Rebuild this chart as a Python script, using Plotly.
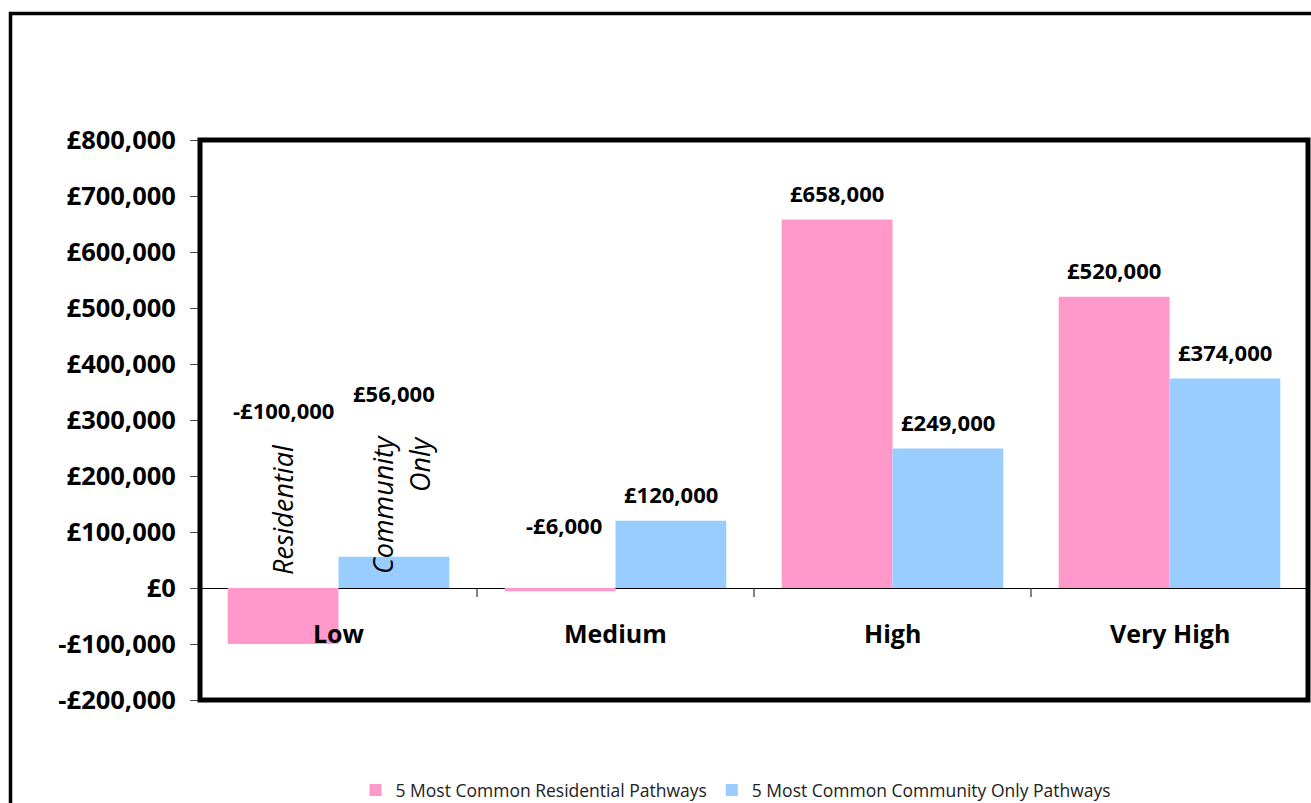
import plotly.graph_objects as go

# ---- data -------------------------------------------------------------
categories = ["Low", "Medium", "High", "Very High"]
residential = [-100000, -6000, 658000, 520000]
community_only = [56000, 120000, 249000, 374000]
series_names = ["5 Most Common Residential Pathways",
                "5 Most Common Community Only Pathways"]
y_ticks = [-200000, -100000, 0, 100000, 200000, 300000, 400000,
           500000, 600000, 700000, 800000]

# ---- styling ----------------------------------------------------------
PINK = "#FF99CC"
BLUE = "#99CCFF"
FONT = "Open Sans, Lato, sans-serif"

FIG_W, FIG_H = 1311, 803
PL, PT, PW, PH = 200, 140, 1108, 560  # plot area in pixels


def px_x(x):
    return (x - PL) / PW


def px_y(y):
    return (PT + PH - y) / PH


def money(v):
    return ("-" if v < 0 else "") + "£{:,}".format(abs(v))


fig = go.Figure()
fig.add_trace(go.Bar(x=categories, y=residential, name=series_names[0],
                     marker=dict(color=PINK, line=dict(width=0))))
fig.add_trace(go.Bar(x=categories, y=community_only, name=series_names[1],
                     marker=dict(color=BLUE, line=dict(width=0))))

# value labels above each bar; a few were nudged by hand
half_bar = 55.5
nudges = {(0, "Low"): (0, 178), (1, "Low"): (0, 164), (0, "Medium"): (4, 63)}
for si, values in enumerate([residential, community_only]):
    for cat, v in zip(categories, values):
        dx, dy = nudges.get((si, cat), (0, 27))
        fig.add_annotation(
            x=cat, y=max(v, 0), xref="x", yref="y",
            xshift=(-half_bar if si == 0 else half_bar) + dx, yshift=dy,
            text=money(v), showarrow=False, yanchor="middle",
            font=dict(family=FONT, size=22, color="black", weight="bold"))

# category names drawn inside the plot, below the zero line
for cat in categories:
    fig.add_annotation(x=cat, y=0, xref="x", yref="y", yshift=-45,
                       text=cat, showarrow=False, yanchor="middle",
                       font=dict(family=FONT, size=25, color="black",
                                 weight="bold"))

# rotated series captions over the "Low" group
for txt, cx, cy in [("Residential", 282, 510), ("Community", 382, 505),
                    ("Only", 420, 464)]:
    fig.add_annotation(x=px_x(cx), y=px_y(cy), xref="paper", yref="paper",
                       text=txt, showarrow=False, textangle=-90,
                       xanchor="center", yanchor="middle",
                       font=dict(family=FONT, size=27, color="black",
                                 style="italic"))

shapes = []
# short separator ticks between categories on the zero line
for i in range(len(categories) - 1):
    shapes.append(dict(type="line", xref="x", yref="y", x0=i + 0.5, x1=i + 0.5,
                       ysizemode="pixel", yanchor=0, y0=0, y1=-9,
                       line=dict(color="#333333", width=1.2)))
# heavy plot-area border
shapes.append(dict(type="rect", xref="paper", yref="paper", x0=0, x1=1,
                   y0=0, y1=1, line=dict(color="black", width=5),
                   layer="above"))
# outer chart frame
shapes.append(dict(type="rect", xref="paper", yref="paper",
                   x0=px_x(10.5), x1=px_x(1330), y0=px_y(830), y1=px_y(13.5),
                   line=dict(color="black", width=3.5), layer="below"))

fig.update_layout(
    width=FIG_W, height=FIG_H,
    margin=dict(l=PL, r=FIG_W - PL - PW, t=PT, b=FIG_H - PT - PH,
                autoexpand=False),
    paper_bgcolor="white", plot_bgcolor="white",
    barmode="group", bargap=0.2, bargroupgap=0,
    shapes=shapes,
    showlegend=True,
    legend=dict(orientation="h", x=px_x(736), y=px_y(790),
                xanchor="center", yanchor="middle",
                font=dict(family=FONT, size=17.5, color="#222222"),
                itemclick=False, itemdoubleclick=False),
    xaxis=dict(showticklabels=False, showgrid=False, ticks="",
               showline=False, zeroline=False, fixedrange=True),
    yaxis=dict(range=[-200000, 800000], tickvals=y_ticks,
               ticktext=[money(v) for v in y_ticks],
               showgrid=False, showline=False,
               zeroline=True, zerolinecolor="black", zerolinewidth=1.2,
               ticks="outside", ticklen=9, tickcolor="#444444", tickwidth=1.2,
               ticklabelstandoff=9,
               tickfont=dict(family=FONT, size=25.5, color="black",
                             weight="bold"),
               automargin=False, fixedrange=True),
)

fig.write_html("out.html", config={"displayModeBar": False})
